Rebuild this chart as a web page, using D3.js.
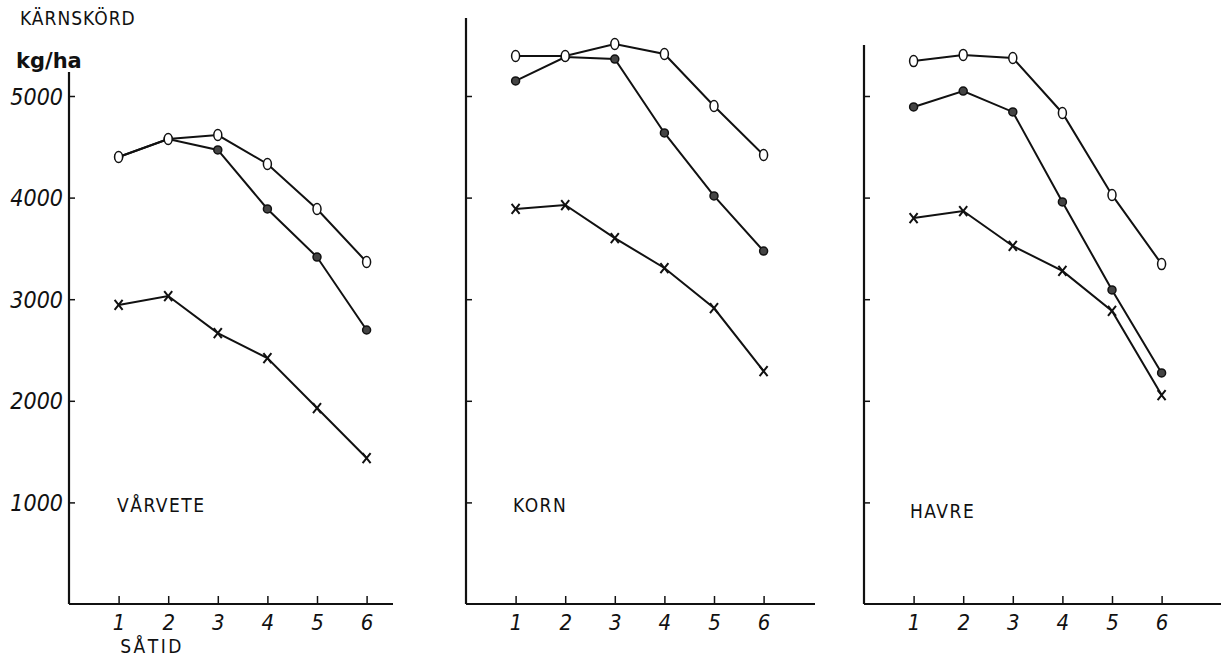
<!DOCTYPE html>
<html>
<head>
<meta charset="utf-8">
<script src="https://cdn.jsdelivr.net/npm/d3@7"></script>
<style>
  body { margin: 0; background: #fff; }
  svg { display: block; }
  .tick text { font-family: "DejaVu Sans Condensed", "DejaVu Sans", sans-serif; font-style: italic; fill: #111; }
  .lbl { font-family: "Liberation Sans Narrow", "DejaVu Sans Condensed", sans-serif; fill: #111; }
</style>
</head>
<body>
<div id="chart"></div>
<script>
// the chart values
var satid = [1, 2, 3, 4, 5, 6];
var yTicks = [1000, 2000, 3000, 4000, 5000];

var varveteO   = [4400, 4577, 4616, 4331, 3888, 3366];
var varveteDot = [4400, 4577, 4469, 3888, 3415, 2697];
var varveteX   = [2943, 3031, 2667, 2421, 1929, 1437];

var kornO   = [5394, 5394, 5512, 5413, 4902, 4419];
var kornDot = [5148, 5384, 5364, 4636, 4016, 3474];
var kornX   = [3888, 3927, 3602, 3307, 2913, 2293];

var havreO   = [5344, 5404, 5374, 4833, 4026, 3346];
var havreDot = [4892, 5049, 4843, 3957, 3091, 2274];
var havreX   = [3799, 3868, 3524, 3278, 2884, 2057];

var panelNames = ["VÅRVETE", "KORN", "HAVRE"];

var width = 1221,
    height = 658;

var svg = d3.select('#chart')
  .append('svg')
    .attr('width', width)
    .attr('height', height);

var ink = '#111';
var unit = 49.6;   // px per sowing time step
var yBase = 604;

// layout of the three panels
var panels = [
  { name: panelNames[0], left: 69,  top: 72, right: 393,  lx: 117, ly: 512, o: varveteO, dot: varveteDot, x: varveteX, labels: true },
  { name: panelNames[1], left: 466, top: 18, right: 815,  lx: 513, ly: 512, o: kornO,    dot: kornDot,    x: kornX,    labels: false },
  { name: panelNames[2], left: 864, top: 45, right: 1221, lx: 910, ly: 518, o: havreO,   dot: havreDot,   x: havreX,   labels: false }
];

var y = d3.scaleLinear()
  .domain([0, 5000])
  .range([yBase, 96]);

svg.append('text').attr('class', 'lbl')
  .attr('x', 20).attr('y', 25)
  .style('font-size', '19px')
  .style('letter-spacing', '1px')
  .text('KÄRNSKÖRD');

svg.append('text')
  .attr('x', 16).attr('y', 68)
  .style('font-family', '"DejaVu Sans", sans-serif')
  .style('font-size', '21px')
  .style('font-weight', 'bold')
  .style('fill', ink)
  .text('kg/ha');

panels.forEach(function(p) {
  var x = d3.scaleLinear()
    .domain([0, 1])
    .range([p.left, p.left + unit]);

  var g = svg.append('g');

  // y axis
  var yAxis = d3.axisLeft(y)
    .tickValues(yTicks)
    .tickSizeInner(-6)
    .tickSizeOuter(0)
    .tickPadding(6)
    .tickFormat(p.labels ? d3.format('d') : '');

  var ya = g.append('g')
    .attr('transform', 'translate(' + p.left + ',0)')
    .call(yAxis);
  ya.select('.domain').remove();
  ya.selectAll('.tick line').style('stroke', ink).style('stroke-width', 1.5);
  ya.selectAll('.tick text').style('font-size', '23px').attr('dy', '0.35em');

  g.append('line')
    .attr('x1', p.left).attr('x2', p.left)
    .attr('y1', p.top).attr('y2', yBase)
    .style('stroke', ink).style('stroke-width', 2.2);

  // x axis
  var xAxis = d3.axisBottom(x)
    .tickValues(satid)
    .tickSizeInner(-8)
    .tickSizeOuter(0)
    .tickPadding(10)
    .tickFormat(d3.format('d'));

  var xa = g.append('g')
    .attr('transform', 'translate(0,' + yBase + ')')
    .call(xAxis);
  xa.select('.domain').remove();
  xa.selectAll('.tick line').style('stroke', ink).style('stroke-width', 1.5);
  xa.selectAll('.tick text').style('font-size', '22px');

  g.append('line')
    .attr('x1', p.left).attr('x2', p.right)
    .attr('y1', yBase).attr('y2', yBase)
    .style('stroke', ink).style('stroke-width', 1.8);

  // panel name
  g.append('text').attr('class', 'lbl')
    .attr('x', p.lx).attr('y', p.ly)
    .style('font-size', '19px')
    .style('letter-spacing', '1.5px')
    .text(p.name);

  var line = d3.line()
    .x(function(d, i) { return x(satid[i]); })
    .y(function(d) { return y(d); });

  [p.dot, p.x, p.o].forEach(function(s) {
    g.append('path')
      .datum(s)
      .attr('d', line)
      .style('fill', 'none')
      .style('stroke', ink)
      .style('stroke-width', 2);
  });

  // filled dots
  g.selectAll('.dot')
    .data(p.dot)
    .enter()
    .append('circle')
    .attr('class', 'dot')
    .attr('cx', function(d, i) { return x(satid[i]); })
    .attr('cy', function(d) { return y(d); })
    .attr('r', 4)
    .style('fill', '#444')
    .style('stroke', ink)
    .style('stroke-width', 1.5);

  // crosses
  g.selectAll('.cross')
    .data(p.x)
    .enter()
    .append('path')
    .attr('class', 'cross')
    .attr('transform', function(d, i) { return 'translate(' + x(satid[i]) + ',' + y(d) + ')'; })
    .attr('d', 'M-4,-5L4,5M4,-5L-4,5')
    .style('stroke', ink)
    .style('stroke-width', 2);

  // open rings
  g.selectAll('.ring')
    .data(p.o)
    .enter()
    .append('ellipse')
    .attr('class', 'ring')
    .attr('cx', function(d, i) { return x(satid[i]); })
    .attr('cy', function(d) { return y(d); })
    .attr('rx', 4)
    .attr('ry', 5.5)
    .style('fill', '#fff')
    .style('stroke', ink)
    .style('stroke-width', 1.5);
});

// x axis title
svg.append('text').attr('class', 'lbl')
  .attr('x', 152).attr('y', 653)
  .attr('text-anchor', 'middle')
  .style('font-size', '19px')
  .style('letter-spacing', '2.5px')
  .text('SÅTID');
</script>
</body>
</html>
